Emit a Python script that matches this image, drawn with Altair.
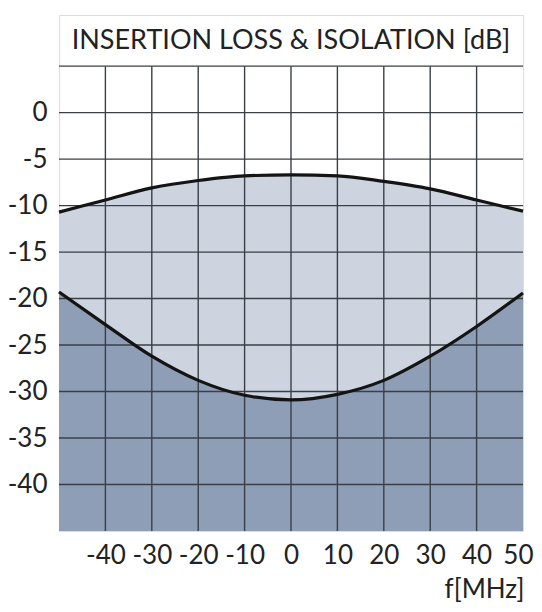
import altair as alt
import pandas as pd

# Data
freq = [-50, -40, -30, -20, -10, 0, 10, 20, 30, 40, 50]
insertion_loss = [-10.7, -9.4, -8.1, -7.3, -6.8, -6.7, -6.8, -7.4, -8.2, -9.4, -10.6]
isolation = [-19.3, -22.8, -26.2, -28.8, -30.4, -30.9, -30.3, -28.8, -26.2, -23.0, -19.4]

x_ticks = [-40, -30, -20, -10, 0, 10, 20, 30, 40, 50]
y_ticks = [0, -5, -10, -15, -20, -25, -30, -35, -40]
v_grid = [-40, -30, -20, -10, 0, 10, 20, 30, 40]
h_grid = [5, 0, -5, -10, -15, -20, -25, -30, -35, -40]
title_text = "INSERTION LOSS & ISOLATION [dB]"
x_label = "f[MHz]"

X_DOM = [-50, 50]
Y_DOM = [-45, 10.5]
Y_BOTTOM = -45
Y_GRID_TOP = 5

FONT = "Lato"
LIGHT = "#cdd4df"
DARK = "#8e9eb6"
GRID = "#3a3f47"

df = pd.DataFrame({"f": freq, "il": insertion_loss, "iso": isolation, "bottom": Y_BOTTOM})

xs = alt.Scale(domain=X_DOM, nice=False, zero=False)
ys = alt.Scale(domain=Y_DOM, nice=False, zero=False)

x_axis = alt.Axis(values=x_ticks, grid=False, ticks=False, domain=False,
                  labelExpr="toString(datum.value)",
                  labelFontSize=26, labelFont=FONT, labelColor="#222",
                  labelPadding=11, labelFlush=True, labelFlushOffset=10,
                  labelOverlap=False,
                  title=x_label, titleFont=FONT, titleFontSize=26,
                  titleFontWeight="normal", titleColor="#222",
                  titleAlign="right", titleAnchor="end", titleX=465, titleY=66,
                  titleBaseline="alphabetic")
y_axis = alt.Axis(values=y_ticks, grid=False, ticks=False, domain=False,
                  labelExpr="toString(datum.value)",
                  labelFontSize=26, labelFont=FONT, labelColor="#222",
                  labelPadding=12, labelFlush=False, labelOverlap=False, title=None)

base = alt.Chart(df)

dark_area = base.mark_area(color=DARK, interpolate="monotone").encode(
    x=alt.X("f:Q", scale=xs, axis=x_axis),
    y=alt.Y("iso:Q", scale=ys, axis=y_axis),
    y2="bottom:Q",
)
light_area = base.mark_area(color=LIGHT, interpolate="monotone").encode(
    x=alt.X("f:Q", scale=xs),
    y=alt.Y("il:Q", scale=ys),
    y2="iso:Q",
)

vdf = pd.DataFrame({"f": v_grid, "y0": Y_BOTTOM, "y1": Y_GRID_TOP})
vgrid = alt.Chart(vdf).mark_rule(color=GRID, strokeWidth=1.4).encode(
    x=alt.X("f:Q", scale=xs), y=alt.Y("y0:Q", scale=ys), y2="y1:Q")

hdf = pd.DataFrame({"y": h_grid, "x0": X_DOM[0], "x1": X_DOM[1]})
hgrid = alt.Chart(hdf).mark_rule(color=GRID, strokeWidth=1.4).encode(
    y=alt.Y("y:Q", scale=ys), x=alt.X("x0:Q", scale=xs), x2="x1:Q")

il_line = base.mark_line(color="#141414", strokeWidth=3.2, interpolate="monotone").encode(
    x=alt.X("f:Q", scale=xs), y=alt.Y("il:Q", scale=ys))
iso_line = base.mark_line(color="#141414", strokeWidth=3.2, interpolate="monotone").encode(
    x=alt.X("f:Q", scale=xs), y=alt.Y("iso:Q", scale=ys))

tdf = pd.DataFrame({"x": [0], "y": [(Y_GRID_TOP + Y_DOM[1]) / 2], "t": [title_text]})
title = alt.Chart(tdf).mark_text(font=FONT, fontSize=27, color="#222",
                                 align="center", baseline="middle").encode(
    x=alt.X("x:Q", scale=xs), y=alt.Y("y:Q", scale=ys), text="t:N")

chart = alt.layer(dark_area, light_area, vgrid, hgrid, il_line, iso_line, title).properties(
    width=464, height=516,
    autosize=alt.AutoSizeParams(type="none"),
    padding={"left": 51, "top": 7, "right": 11, "bottom": 73},
).configure_view(stroke="#4a4a4a", strokeWidth=2.2).configure(background="white")

chart.save("out.html", embed_options={"renderer": "svg", "actions": False})
